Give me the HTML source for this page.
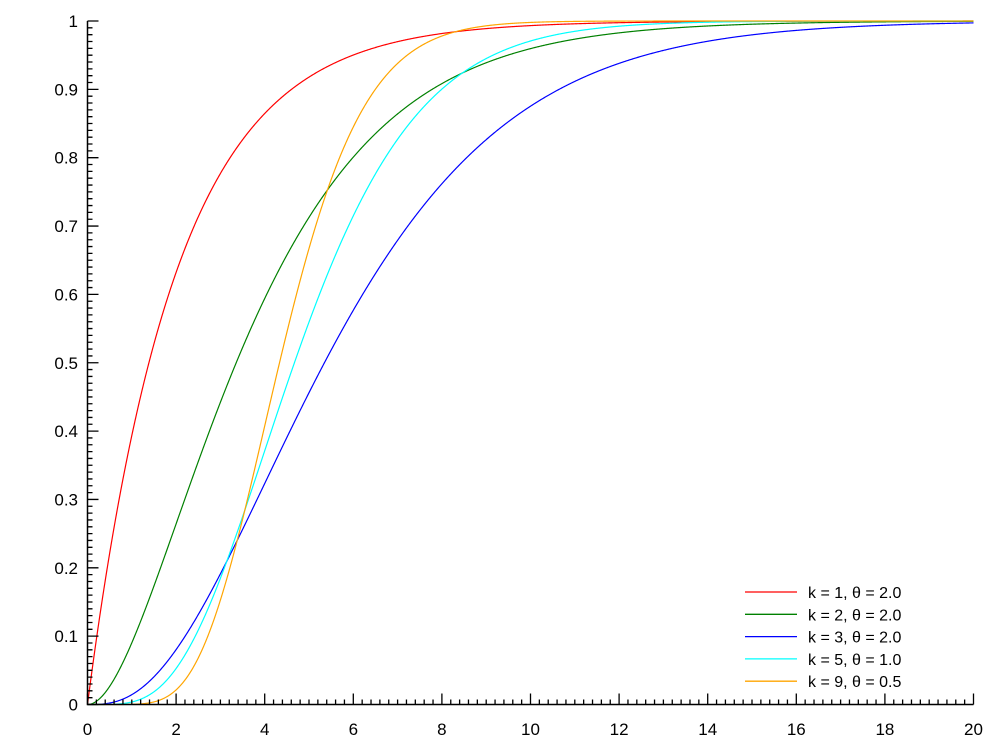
<!DOCTYPE html>
<html><head><meta charset="utf-8"><style>
html,body{margin:0;padding:0;background:#fff;}
svg{display:block;}
text{font-family:"Liberation Sans",sans-serif;font-size:17px;fill:#000;}
</style></head><body>
<svg id="s" width="1000" height="750" xmlns="http://www.w3.org/2000/svg"></svg>
<script>
const s=document.getElementById('s');
const X0=87.5,XS=44.3,Y0=704.5,YS=683.5;
const px=x=>X0+x*XS, py=y=>Y0-y*YS;
let h='';
// curves
const series=[[1,2,'#ff0000'],[2,2,'#008000'],[3,2,'#0000ff'],[5,1,'#00ffff'],[9,0.5,'#ffa500']];
function cdf(x,k,t){let z=x/t,sum=0,term=1;for(let n=0;n<k;n++){if(n>0)term*=z/n;sum+=term;}return 1-Math.exp(-z)*sum;}
for(const [k,t,c] of series){let d='';for(let i=0;i<=2000;i++){const x=i*0.01;d+=(i?'L':'M')+px(x).toFixed(2)+','+py(cdf(x,k,t)).toFixed(2);}
h+=`<path d="${d}" fill="none" stroke="${c}" stroke-width="1.2"/>`;}
// axes
h+=`<path d="M${X0},${py(1)}V${Y0}H${px(20)}" fill="none" stroke="#000" stroke-width="1.5"/>`;
let tk='';
for(let i=0;i<=100;i++){const x=px(i*0.2);const L=(i%10==0)?11:5;tk+=`M${x},${Y0}v${-L}`;}
for(let i=0;i<=100;i++){const y=py(i*0.01);const L=(i%10==0)?11:5;tk+=`M${X0},${y}h${L}`;}
h+=`<path d="${tk}" stroke="#000" stroke-width="1.3" fill="none"/>`;
for(let i=0;i<=20;i+=2)h+=`<text x="${px(i)}" y="735" text-anchor="middle">${i}</text>`;
for(let i=0;i<=10;i++){const v=i==0?'0':i==10?'1':(i/10).toString();h+=`<text x="78" y="${py(i/10)+6}" text-anchor="end">${v}</text>`;}
// legend
const labs=['k = 1, θ = 2.0','k = 2, θ = 2.0','k = 3, θ = 2.0','k = 5, θ = 1.0','k = 9, θ = 0.5'];
series.forEach((sr,i)=>{const y=592+i*22.3;h+=`<line x1="745" x2="797" y1="${y}" y2="${y}" stroke="${sr[2]}" stroke-width="1.3"/><text x="808" y="${y+6}" style="font-size:16px">${labs[i]}</text>`;});
s.innerHTML=h;
</script>
</body></html>
